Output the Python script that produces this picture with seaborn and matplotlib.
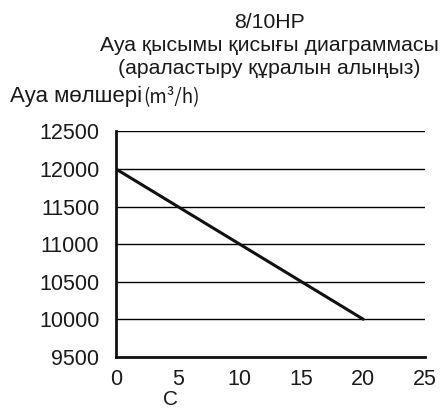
import matplotlib
matplotlib.use("Agg")
import matplotlib.pyplot as plt
import seaborn as sns
import pandas as pd

pressure = [0, 20]
airflow = [12000, 10000]
x_ticks = [0, 5, 10, 15, 20, 25]
y_ticks = [9500, 10000, 10500, 11000, 11500, 12000, 12500]
title_lines = ["8/10HP", "Ауа қысымы қисығы диаграммасы", "(араластыру құралын алыңыз)"]
ylabel_main = "Ауа мөлшері"
ylabel_unit = "(m³/h)"
xlabel = "C"

sns.set_theme(style="white")
plt.rcParams['font.family'] = ['Liberation Sans', 'DejaVu Sans']

H = 412.0
fig = plt.figure(figsize=(4.4, 4.12), dpi=100)
ax = fig.add_axes([0.2636, 0.134, 0.966 - 0.2636, 0.681 - 0.134])

df = pd.DataFrame({"p": pressure, "q": airflow})
sns.lineplot(data=df, x="p", y="q", ax=ax, color="#111111", linewidth=2.2)

ax.set_xlim(0, 25)
ax.set_ylim(9500, 12500)
ax.set_xticks(x_ticks)
ax.set_yticks(y_ticks)
ax.set_xticklabels([str(v) for v in x_ticks], fontsize=15.5)
ax.set_yticklabels([str(v) for v in y_ticks], fontsize=15.5)
ax.tick_params(axis='both', direction='out', length=5, width=1.5, color='black', labelcolor='#1a1a1a')
ax.tick_params(axis='y', pad=7)
ax.tick_params(axis='x', pad=3.5)
ax.yaxis.grid(True, color='black', linewidth=1)
ax.xaxis.grid(False)
for s in ['top', 'right']:
    ax.spines[s].set_visible(False)
for s in ['left', 'bottom']:
    ax.spines[s].set_color('#111111')
    ax.spines[s].set_linewidth(2)
ax.set_ylabel("")
ax.set_xlabel(xlabel, fontsize=15, color='#1a1a1a')
ax.xaxis.set_label_coords(0.178, -0.148)

baselines = [28.5, 51.0, 74.5]
for line, b in zip(title_lines, baselines):
    fig.text(0.612, 1 - b / H, line, ha='center', va='baseline', fontsize=15.3, color='#1a1a1a')

t = fig.text(10 / 440, 1 - 102 / H, ylabel_main, ha='left', va='baseline', fontsize=16, color='#1a1a1a')
ax.annotate(ylabel_unit, xy=(1, 0), xycoords=t, xytext=(0.5, 0), textcoords='offset points',
            ha='left', va='bottom', fontsize=13.5,
            family=['Noto Sans CJK JP', 'DejaVu Sans'], color='#1a1a1a', annotation_clip=False)

fig.savefig("out.png", dpi=100)
